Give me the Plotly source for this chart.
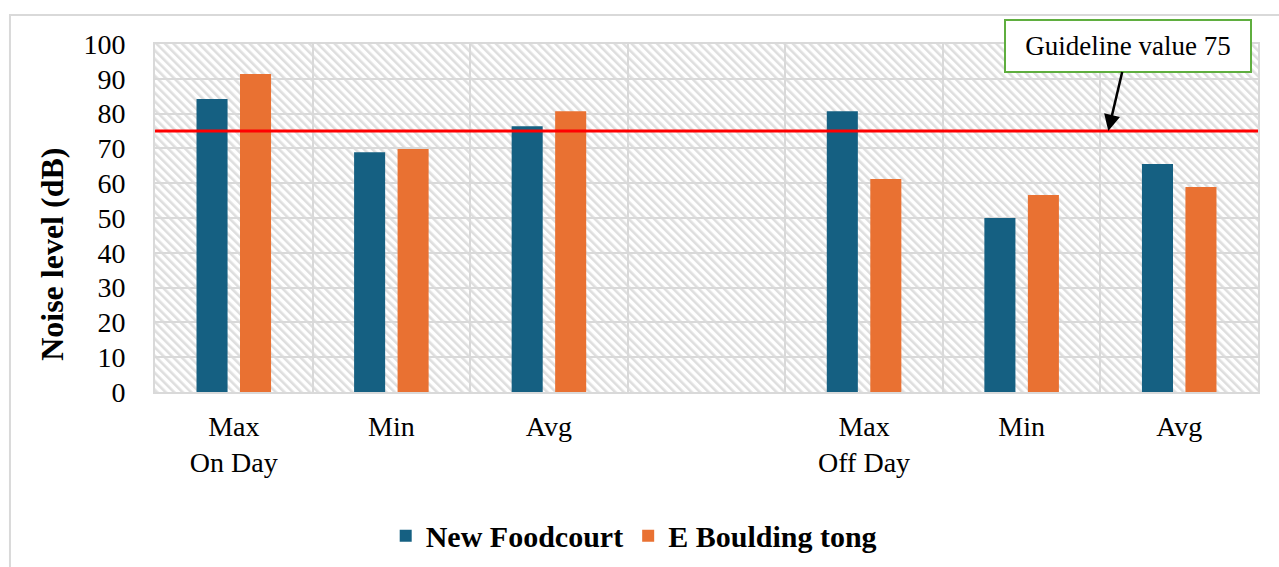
import base64
import plotly.graph_objects as go

# Measurement slots along the x axis (slot 3 is an empty spacer column)
slot_index = [0, 1, 2, 3, 4, 5, 6]
tick_labels = ["Max<br>On Day", "Min", "Avg", "", "Max<br>Off Day", "Min", "Avg"]

new_foodcourt = [84.2, 68.9, 76.4, None, 80.7, 50.0, 65.5]
e_boulding_tong = [91.4, 69.8, 80.7, None, 61.2, 56.6, 58.9]

guideline_value = 75
y_ticks = [0, 10, 20, 30, 40, 50, 60, 70, 80, 90, 100]

BLUE = "#156082"
ORANGE = "#E97132"
GRID = "#d9d9d9"
SERIF = "Liberation Serif"

# Light diagonal hatch used as the plot-area background
hatch_svg = (
    '<svg xmlns="http://www.w3.org/2000/svg" width="1103" height="348" '
    'viewBox="0 0 1103 348">'
    '<defs><pattern id="h" width="6" height="6" patternUnits="userSpaceOnUse" '
    'patternTransform="rotate(-45)">'
    '<rect width="6" height="6" fill="#ffffff"/>'
    '<rect width="2.6" height="6" fill="#dedede"/></pattern></defs>'
    '<rect width="1103" height="348" fill="url(#h)"/></svg>'
)
hatch_uri = "data:image/svg+xml;base64," + base64.b64encode(hatch_svg.encode()).decode()

fig = go.Figure()
fig.add_trace(go.Bar(x=slot_index, y=new_foodcourt, name="New Foodcourt",
                     marker=dict(color=BLUE, line=dict(width=0))))
fig.add_trace(go.Bar(x=slot_index, y=e_boulding_tong, name="E Boulding tong",
                     marker=dict(color=ORANGE, line=dict(width=0))))

# Guideline level
fig.add_shape(type="line", xref="x domain", yref="y", x0=0, x1=1,
              y0=guideline_value, y1=guideline_value,
              line=dict(color="#ff0000", width=3), layer="above")

fig.add_annotation(
    x=5.55, y=guideline_value, xref="x", yref="y",
    text=f"Guideline value {guideline_value}",
    showarrow=True, ax=20, ay=-85,
    arrowhead=2, arrowsize=1.3, arrowwidth=2.5, arrowcolor="#000000",
    font=dict(family=SERIF, size=27, color="#000000"),
    bgcolor="#ffffff", bordercolor="#5fae3f", borderwidth=2,
    width=238, height=44, borderpad=3,
)

# Y axis title, placed as a rotated label
fig.add_annotation(
    text="Noise level (dB)", textangle=-90, showarrow=False,
    xref="paper", yref="paper", x=-0.094, y=0.395,
    xanchor="center", yanchor="middle",
    font=dict(family=SERIF, size=32, color="#000000", weight="bold"),
)

# Outer chart frame
fig.add_shape(type="rect", xref="paper", yref="paper",
              x0=-0.1315, x1=1.2, y0=-1.0, y1=1.0833,
              line=dict(color=GRID, width=2), fillcolor="rgba(0,0,0,0)", layer="below")

fig.add_layout_image(source=hatch_uri, xref="x domain", yref="y domain",
                     x=0, y=1, sizex=1, sizey=1, xanchor="left", yanchor="top",
                     sizing="stretch", layer="below")

fig.update_layout(
    width=1279, height=567,
    margin=dict(l=155, r=21, t=44, b=175, autoexpand=False),
    paper_bgcolor="#ffffff", plot_bgcolor="rgba(0,0,0,0)",
    barmode="group", bargap=0.448, bargroupgap=0.286,
    font=dict(family=SERIF, color="#000000"),
    legend=dict(orientation="h", x=0.434, y=-0.413, xanchor="center", yanchor="middle",
                font=dict(family=SERIF, size=30, color="#000000", weight="bold"),
                itemsizing="constant", traceorder="normal", itemwidth=30),
    showlegend=True,
)

fig.update_xaxes(
    range=[-0.5, 6.5], tickmode="array", tickvals=slot_index, ticktext=tick_labels,
    showgrid=False, zeroline=False, automargin=False,
    showline=True, mirror=True, linecolor=GRID, linewidth=2,
    ticks="outside", ticklen=8, tickcolor="rgba(0,0,0,0)",
    tickfont=dict(family=SERIF, size=28, color="#000000"),
    minor=dict(tickmode="array", tickvals=[0.5, 1.5, 2.5, 3.5, 4.5, 5.5],
               showgrid=True, gridcolor=GRID, gridwidth=2, ticks=""),
)
fig.update_yaxes(
    range=[0, 100], tickmode="array", tickvals=y_ticks,
    showgrid=True, gridcolor=GRID, gridwidth=2, zeroline=False, automargin=False,
    showline=True, mirror=True, linecolor=GRID, linewidth=2,
    ticks="outside", ticklen=22, tickcolor="rgba(0,0,0,0)",
    tickfont=dict(family=SERIF, size=28, color="#000000"),
)

fig.write_html("out.html")
